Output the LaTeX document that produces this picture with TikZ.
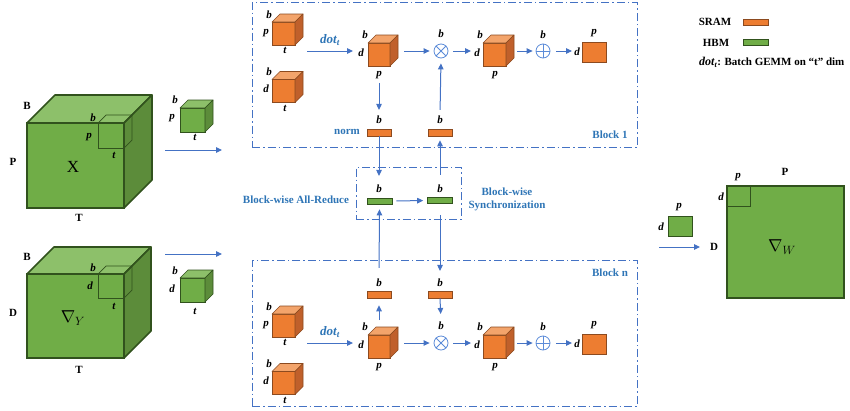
\documentclass[tikz,border=0pt]{standalone}
\usepackage{fontspec}
\setmainfont{Liberation Serif}
\usetikzlibrary{arrows.meta,calc}

\definecolor{grfront}{HTML}{70AD47}
\definecolor{grtop}{HTML}{8DC06A}
\definecolor{grside}{HTML}{5C8C3A}
\definecolor{grline}{HTML}{31521D}
\definecolor{orfront}{HTML}{ED7D31}
\definecolor{ortop}{HTML}{F3A46B}
\definecolor{orside}{HTML}{C0602B}
\definecolor{orline}{HTML}{8C4A1F}
\definecolor{flowblue}{HTML}{4472C4}
\definecolor{opblue}{HTML}{5B8BD8}
\definecolor{txtblue}{HTML}{2E75B6}

% front face is a node, top and side are drawn from its corners
% [style] name, position, width, height, depth, colour (gr / or)
\newcommand{\tensorcube}[7][]{%
  \node[draw=#7line, fill=#7front, line width=0.6pt, minimum width=#4, minimum height=#5, inner sep=0pt, outer sep=0pt, #1] (#2) at (#3) {};
  \filldraw[draw=#7line, fill=#7top, line width=0.6pt, line join=round, #1] (#2.north west) -- ++(#6,-#6) -- ($(#2.north east)+(#6,-#6)$) -- (#2.north east) -- cycle;
  \filldraw[draw=#7line, fill=#7side, line width=0.6pt, line join=round, #1] (#2.north east) -- ++(#6,-#6) -- ($(#2.south east)+(#6,-#6)$) -- (#2.south east) -- cycle;
}

\begin{document}
\begin{tikzpicture}[x=1pt, y=-1pt, >={Triangle[length=6pt, width=5.5pt]},
  every node/.style={font=\fontsize{11}{13}\selectfont\bfseries, inner sep=1pt},
  dim/.style={font=\fontsize{11}{13}\selectfont\bfseries\itshape},
  big/.style={font=\fontsize{17}{19}\selectfont},
  note/.style={text=txtblue},
  flow/.style={->, draw=flowblue, line width=1pt},
  blockbox/.style={draw=flowblue, line width=1pt, dash pattern=on 8pt off 3pt on 1.5pt off 3pt, inner sep=0pt},
  opnode/.style={circle, draw=opblue, line width=0.8pt, minimum size=14pt, inner sep=0pt},
  orbar/.style={draw=orline, fill=orfront, line width=0.6pt, minimum width=24pt, minimum height=7pt, inner sep=0pt},
  grbar/.style={draw=grline, fill=grfront, line width=0.6pt, minimum width=25pt, minimum height=6pt, inner sep=0pt},
  plane/.style={draw=grline, fill=grfront, inner sep=0pt, outer sep=0pt}]
  \useasboundingbox (0,0) rectangle (850,410);

  % input X
  \tensorcube[line width=1.6pt]{X}{75.5,165.5}{97}{85}{28}{gr}
  \tensorcube[line width=0.7pt, fill=none, anchor=north east]{Xs}{X.north east}{26}{25}{8}{gr}
  \node (X-B) at (27,106) {B};
  \node (X-P) at (13,162) {P};
  \node (X-T) at (79,218) {T};
  \node[big] (X-name) at (73,167) {X};
  \node[dim] (Xs-b) at (93,118) {b};
  \node[dim] (Xs-p) at (89,137) {p};
  \node[dim] (Xs-t) at (114,155) {t};
  \tensorcube{xb}{192.5,120}{25}{24}{8}{gr}
  \node[dim] (xb-b) at (175,100) {b};
  \node[dim] (xb-p) at (172,118) {p};
  \node[dim] (xb-t) at (195,137) {t};
  \coordinate (xin) at (165,150);
  \coordinate (xout) at (222,150);
  \draw[flow] (xin) -- (xout);

  % input grad Y
  \tensorcube[line width=1.6pt]{Y}{75.5,316}{97}{84}{27}{gr}
  \tensorcube[line width=0.7pt, fill=none, anchor=north east]{Ys}{Y.north east}{26}{24}{8}{gr}
  \node (Y-B) at (27,257) {B};
  \node (Y-D) at (13,313) {D};
  \node (Y-T) at (79,370) {T};
  \node[big] (Y-name) at (73,318) {$\nabla_{Y}$};
  \node[dim] (Ys-b) at (93,268) {b};
  \node[dim] (Ys-d) at (90,286) {d};
  \node[dim] (Ys-t) at (114,306) {t};
  \tensorcube{yb}{192.5,290}{25}{24}{8}{gr}
  \node[dim] (yb-b) at (175,271) {b};
  \node[dim] (yb-d) at (172,289) {d};
  \node[dim] (yb-t) at (195,311) {t};
  \coordinate (yin) at (165,254);
  \coordinate (yout) at (222,254);
  \draw[flow] (yin) -- (yout);

  % the two blocks
  \node[blockbox, minimum width=385pt, minimum height=145pt] (blk1) at (444.5,74.5) {};
  \node[note] (blk1-lab) at (610,135) {Block 1};
  \node[blockbox, minimum width=385pt, minimum height=146pt] (blk2) at (444.5,333) {};
  \node[note] (blk2-lab) at (610,273) {Block n};

  \foreach \k/\oy in {1/0, 2/292} {
    \tensorcube{c\k-a}{283.5,33.5+\oy}{23}{23}{8}{or}
    \node[dim] (c\k-a-b) at (269,15+\oy) {b};
    \node[dim] (c\k-a-p) at (266,33+\oy) {p};
    \node[dim] (c\k-a-t) at (285,50+\oy) {t};
    \tensorcube{c\k-b}{283.5,91+\oy}{23}{23}{8}{or}
    \node[dim] (c\k-b-b) at (269,72+\oy) {b};
    \node[dim] (c\k-b-d) at (266,89+\oy) {d};
    \node[dim] (c\k-b-t) at (285,108+\oy) {t};
    \coordinate (dot\k) at (307,51+\oy);
    \node[note, font=\fontsize{13}{15}\selectfont\bfseries\itshape] (dot\k-lab) at (330,40+\oy) {dot\textsubscript{t}};
    \tensorcube{c\k-c}{379,54.5+\oy}{22}{23}{8}{or}
    \node[dim] (c\k-c-b) at (365,35+\oy) {b};
    \node[dim] (c\k-c-d) at (361,53+\oy) {d};
    \node[dim] (c\k-c-p) at (379,75+\oy) {p};
    \node[opnode] (m\k) at (441,51+\oy) {};
    \draw[opblue, line width=0.8pt] (m\k.north west) -- (m\k.south east) (m\k.north east) -- (m\k.south west);
    \node[dim] (m\k-b) at (441,34+\oy) {b};
    \tensorcube{c\k-d}{494.5,54.5+\oy}{23}{23}{8}{or}
    \node[dim] (c\k-d-b) at (480,35+\oy) {b};
    \node[dim] (c\k-d-d) at (477,53+\oy) {d};
    \node[dim] (c\k-d-p) at (495,75+\oy) {p};
    \node[opnode] (s\k) at (543,51+\oy) {};
    \draw[opblue, line width=0.8pt] (s\k.north) -- (s\k.south) (s\k.west) -- (s\k.east);
    \node[dim] (s\k-b) at (543,35+\oy) {b};
    \node[draw=orline, fill=orfront, line width=0.6pt, minimum width=24pt, minimum height=20pt, inner sep=0pt] (sq\k) at (594,52+\oy) {};
    \node[dim] (sq\k-p) at (594,33+\oy) {p};
    \node[dim] (sq\k-d) at (577,52+\oy) {d};
    % row of arrows
    \draw[flow, shorten >=4pt] (dot\k) -- (dot\k -| c\k-c-d.west);
    \draw[flow, shorten <=14pt, shorten >=4pt] (c\k-c.east |- m\k) -- (m\k.west);
    \draw[flow, shorten <=5pt, shorten >=2pt] (m\k.east) -- (m\k -| c\k-d-d.west);
    \draw[flow, shorten <=11pt, shorten >=3pt] (c\k-d.east |- s\k) -- (s\k.west);
    \draw[flow, shorten <=6pt, shorten >=1pt] (s\k.east) -- (s\k -| sq\k-d.west);
  }

  % norm bars and partial results
  \node[orbar] (n1) at (379,132.5) {};
  \node[dim] (n1-b) at (379,120) {b};
  \node[note] (n1-lab) at (347,132) {norm};
  \node[orbar] (g1) at (440,132.5) {};
  \node[dim] (g1-b) at (440,120) {b};
  \node[orbar] (n2) at (379,294.5) {};
  \node[dim] (n2-b) at (379,283) {b};
  \node[orbar] (g2) at (440,294.5) {};
  \node[dim] (g2-b) at (440,283) {b};
  \draw[flow, shorten <=3pt, shorten >=5pt] (c1-c-p) -- (n1-b);
  \draw[flow, shorten <=5pt, shorten >=5pt] (g1-b.north) -- (m1.south);
  \draw[flow, shorten <=15pt, shorten >=7pt] (c2-c.north) -- (n2.south);
  \draw[flow, shorten >=7pt] (g2.south) -- (m2-b.north);

  % all-reduce between blocks
  \node[blockbox, minimum width=105pt, minimum height=52pt] (sync) at (408.5,193) {};
  \node[grbar] (r1) at (379.5,201) {};
  \node[dim] (r1-b) at (379,189) {b};
  \node[grbar] (r2) at (440,200.5) {};
  \node[dim] (r2-b) at (440,189) {b};
  \node[note] (ar-lab) at (296,200) {Block-wise All-Reduce};
  \node[note, align=center] (sync-lab) at (507,199.5) {Block-wise\\Synchronization};
  \draw[flow, shorten <=4pt, shorten >=4pt] (r1.east) -- (r2.west);
  \draw[flow, shorten >=8pt] (n1.south) -- (r1-b.north);
  \draw[flow, shorten <=9pt, shorten >=4pt] (r2-b.north) -- (g1.south);
  \draw[flow, shorten <=10pt, shorten >=5pt] (n2-b.north) -- (r1.south);
  \draw[flow, shorten <=11pt, shorten >=7pt] (r2.south) -- (g2-b.north);

  % output grad W
  \node[plane, line width=0.6pt, minimum width=24pt, minimum height=20pt] (wb) at (680,226) {};
  \node[dim] (wb-p) at (679,207) {p};
  \node[dim] (wb-d) at (661,227) {d};
  \coordinate (win) at (659,247);
  \coordinate (wout) at (700,247);
  \draw[flow] (win) -- (wout);
  \node[plane, line width=1.6pt, minimum width=117pt, minimum height=112pt] (W) at (785.5,242) {};
  \node[plane, line width=0.7pt, fill=none, minimum width=23pt, minimum height=20pt, anchor=north west] (Ws) at (W.north west) {};
  \node[dim] (Ws-p) at (738,177) {p};
  \node[dim] (Ws-d) at (721,197) {d};
  \node (W-P) at (785,172) {P};
  \node (W-D) at (714,247) {D};
  \node[big] (W-name) at (782,247) {$\nabla_{W}$};

  % legend
  \node (sram) at (715,22) {SRAM};
  \node[orbar, minimum width=25pt, minimum height=6pt] (sram-bar) at (755.5,22) {};
  \node (hbm) at (716,43) {HBM};
  \node[grbar] (hbm-bar) at (755.5,42.5) {};
  \node[anchor=west] (dot-note) at (698,62) {{\fontsize{12}{14}\selectfont\itshape dot\textsubscript{t}}: Batch GEMM on “t” dim};
\end{tikzpicture}
\end{document}
